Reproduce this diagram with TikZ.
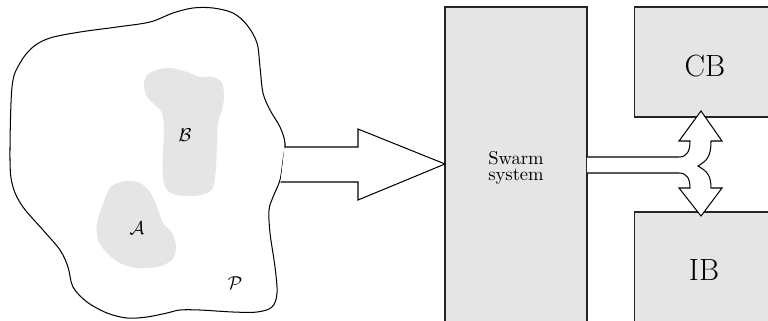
\documentclass[tikz,border=0pt]{standalone}
\begin{document}
\begin{tikzpicture}[x=0.5376pt,y=-0.5376pt,line width=0.55pt,
  boxstyle/.style={fill=gray!20,draw=black!85},
  blobstyle/.style={fill=gray!20,draw=none},
  lbl/.style={inner sep=0pt}]
\useasboundingbox (0,0) rectangle (768,320);
\clip (0,0) rectangle (768,320);
% outer blob P
\draw[fill=white] plot[smooth cycle,tension=0.55] coordinates {
(10,160) (12,87) (20,63) (33,47) (50,38) (80,32) (117,27) (150,22) (173,13)
(193,8) (213,8) (233,13) (247,25) (257,43) (260,67) (263,93) (270,110)
(280,127) (285,143) (283,160) (280,180) (273,197) (269,210) (270,233)
(275,267) (277,293) (272,307) (257,312) (233,312) (200,310) (180,310)
(167,313) (147,317) (127,318) (107,313) (87,302) (73,287) (68,267)
(60,250) (43,230) (23,207) (13,187)};
% blob B
\fill[blobstyle] plot[smooth cycle,tension=0.55] coordinates {
(147,75) (157,70) (170,68) (187,72) (200,77) (213,77) (222,83) (224,97)
(222,110) (218,122) (217,140) (216,167) (213,187) (207,193) (193,196)
(177,195) (167,190) (163,177) (163,150) (164,133) (162,113) (153,103)
(147,97) (144,85)};
% blob A
\fill[blobstyle] plot[smooth cycle,tension=0.55] coordinates {
(113,185) (127,181) (140,183) (150,192) (157,207) (163,223) (172,233)
(176,247) (172,260) (157,267) (137,268) (120,263) (107,253) (98,240)
(97,223) (102,207) (107,193)};
\node[lbl] (lB) at (185,135) {$\mathcal{B}$};
\node[lbl] (lA) at (137,228) {$\mathcal{A}$};
\node[lbl] (lP) at (235,283) {$\mathcal{P}$};
% boxes
\draw[boxstyle] (445,7) rectangle (587,340);
\draw[boxstyle] (634,7) rectangle (790,117);
\draw[boxstyle] (634,212) rectangle (790,340);
\node[lbl,align=center,font=\fontsize{10}{8.8}\selectfont] (sw) at (516,168) {Swarm\\system};
\node[lbl,font=\fontsize{16.5}{19}\selectfont] (cb) at (705,66) {CB};
\node[lbl,font=\fontsize{16.5}{19}\selectfont] (ib) at (704,270) {IB};
% big arrow
\coordinate (a1) at (284.5,147);
\coordinate (a2) at (280.5,182);
\coordinate (tip) at (445,164);
\fill[white] (a1) -- (358,147) -- (358,129) -- (tip) -- (358,200) -- (358,182) -- (a2) -- cycle;
\draw[line join=miter] (a1) -- (358,147) -- (358,129) -- (tip) -- (358,200) -- (358,182) -- (a2);
% double arrow
\coordinate (d1) at (587,157);
\coordinate (d2) at (587,173);
\coordinate (up) at (701,111);
\coordinate (dn) at (701,216);
\fill[white] (d1) -- (679,157) .. controls (687,157) and (690,151) .. (690,141)
 -- (679,141) -- (up) -- (722,141) -- (711,141)
 .. controls (711,158) and (706,161) .. (698,166)
 .. controls (706,171) and (711,174) .. (711,188)
 -- (722,188) -- (dn) -- (679,188) -- (690,188)
 .. controls (690,179) and (687,173) .. (679,173) -- (d2) -- cycle;
\draw[line join=miter] (d1) -- (679,157) .. controls (687,157) and (690,151) .. (690,141)
 -- (679,141) -- (up) -- (722,141) -- (711,141)
 .. controls (711,158) and (706,161) .. (698,166)
 .. controls (706,171) and (711,174) .. (711,188)
 -- (722,188) -- (dn) -- (679,188) -- (690,188)
 .. controls (690,179) and (687,173) .. (679,173) -- (d2);
\end{tikzpicture}
\end{document}
